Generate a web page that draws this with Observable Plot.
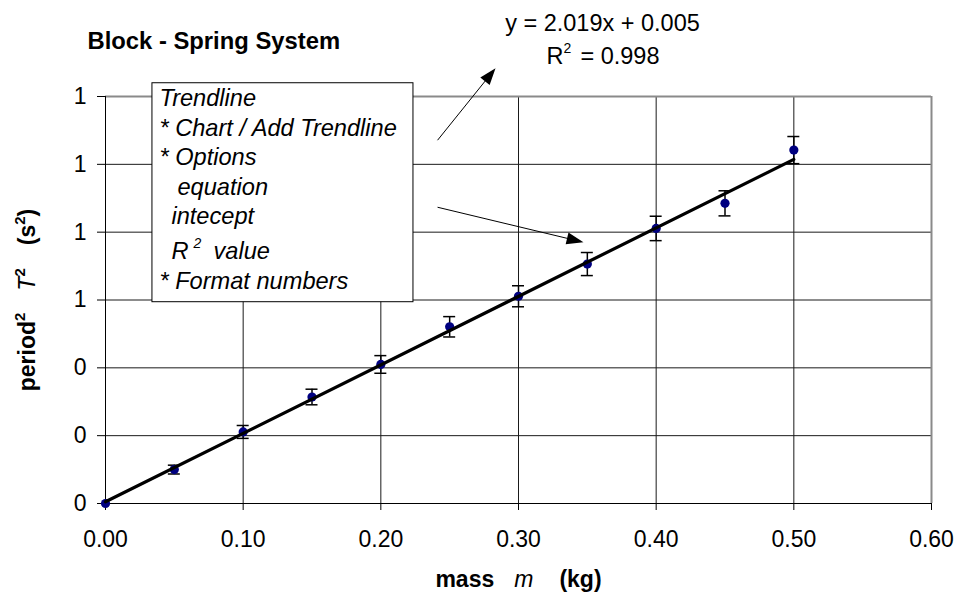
<!DOCTYPE html>
<html>
<head>
<meta charset="utf-8">
<script src="https://cdn.jsdelivr.net/npm/d3@7"></script>
<script src="https://cdn.jsdelivr.net/npm/@observablehq/plot@0.6"></script>
<style>
  html, body { margin: 0; padding: 0; background: #fff; }
  #chart svg { display: block; }
</style>
</head>
<body>
<div id="chart"></div>
<script>
// ---- data ----
const masses = [0, 0.05, 0.10, 0.15, 0.20, 0.25, 0.30, 0.35, 0.40, 0.45, 0.50];
const periodSquared = [0, 0.100, 0.211, 0.314, 0.410, 0.521, 0.611, 0.706, 0.811, 0.885, 1.042];
const errorBars = [0, 0.013, 0.019, 0.023, 0.026, 0.030, 0.031, 0.034, 0.036, 0.037, 0.040];
const xTicks = [0, 0.1, 0.2, 0.3, 0.4, 0.5, 0.6];
const yTicks = [0, 0.2, 0.4, 0.6, 0.8, 1.0, 1.2];
const trendSlope = 2.019;
const trendIntercept = 0.005;
const trendRange = [0, 0.5];
const titleText = "Block - Spring System";
const equationText = "y = 2.019x + 0.005";
const rSquaredText = "= 0.998";
const yTitleText = "period2 T2 (s2)";
const xTitleText = "mass m (kg)";
const noteLines = ["Trendline", "* Chart / Add Trendline", "* Options", "equation", "intecept", "R", "2", "value", "* Format numbers"];

const rows = masses.map((m, i) => ({m, t2: periodSquared[i], err: errorBars[i]}));
const withErr = rows.filter(d => d.err > 0);

const FONT = "'Liberation Sans', Arial, Helvetica, sans-serif";

const arrowHead = {
  draw(ctx, size) {
    const s = Math.sqrt(size / Math.PI);
    ctx.moveTo(0, -1.5 * s);
    ctx.lineTo(s, 1.3 * s);
    ctx.lineTo(-s, 1.3 * s);
    ctx.closePath();
  }
};

const note = (t, x, y, o = {}) => Plot.text([t], {
  x, y, text: d => d, textAnchor: "start", lineAnchor: "bottom",
  fontStyle: "italic", fontSize: 23.6, fontFamily: FONT, fill: "#000", ...o
});

const plot = Plot.plot({
  width: 958,
  height: 596,
  marginLeft: 105,
  marginRight: 27,
  marginTop: 96,
  marginBottom: 93,
  style: {fontFamily: FONT, fontSize: "23px", color: "#000", background: "#fff", overflow: "visible"},
  x: {domain: [0, 0.6], ticks: xTicks, tickFormat: d3.format(".2f"), tickSize: 7, tickPadding: 20, label: null},
  y: {domain: [0, 1.2], ticks: yTicks, tickFormat: d3.format(".0f"), tickSize: 8, tickPadding: 11, label: null},
  marks: [
    // grid
    Plot.ruleY(yTicks.filter(v => v > 0 && v < 1.2), {stroke: "#1a1a1a", strokeWidth: 1}),
    Plot.ruleX(xTicks.filter(v => v > 0 && v < 0.6), {stroke: "#1a1a1a", strokeWidth: 1}),
    Plot.ruleY([1.2], {stroke: "#8a8a8a", strokeWidth: 2}),
    Plot.ruleX([0.6], {stroke: "#8a8a8a", strokeWidth: 2}),
    Plot.ruleX([0], {stroke: "#000", strokeWidth: 1}),
    Plot.ruleY([0], {stroke: "#000", strokeWidth: 1}),

    // error bars
    Plot.ruleX(withErr, {x: "m", y1: d => d.t2 - d.err, y2: d => d.t2 + d.err, stroke: "#000", strokeWidth: 1.5}),
    Plot.ruleY(withErr, {x1: "m", x2: "m", y: d => d.t2 + d.err, insetLeft: -6, insetRight: -6, stroke: "#000", strokeWidth: 1.5}),
    Plot.ruleY(withErr, {x1: "m", x2: "m", y: d => d.t2 - d.err, insetLeft: -6, insetRight: -6, stroke: "#000", strokeWidth: 1.5}),

    // data points
    Plot.dot(rows, {x: "m", y: "t2", r: 4.6, fill: "#000080", stroke: "none"}),

    // trendline
    Plot.line(trendRange, {x: d => d, y: d => trendSlope * d + trendIntercept, stroke: "#000", strokeWidth: 3.2}),

    // annotation box
    Plot.rect([0], {x1: 0.0341, x2: 0.2237, y1: 0.5935, y2: 1.2391, fill: "#fff", stroke: "#000", strokeWidth: 1}),
    note(noteLines[0], 0.0392, 1.1713),
    note(noteLines[1], 0.0392, 1.0843),
    note(noteLines[2], 0.0392, 0.9973),
    note(noteLines[3], 0.0523, 0.9089),
    note(noteLines[4], 0.0479, 0.8234),
    note(noteLines[5], 0.0479, 0.7202),
    note(noteLines[6], 0.0639, 0.7527, {fontSize: 14}),
    note(noteLines[7], 0.0785, 0.7202),
    note(noteLines[8], 0.0392, 0.6318),

    // arrows
    Plot.link([0], {x1: 0.2412, y1: 1.0711, x2: 0.2792, y2: 1.2627, stroke: "#000", strokeWidth: 1}),
    Plot.dot([0], {x: 0.2792, y: 1.2627, r: 6, symbol: arrowHead, fill: "#000", stroke: "none", rotate: 38.9}),
    Plot.link([0], {x1: 0.2412, y1: 0.8735, x2: 0.3408, y2: 0.7765, stroke: "#000", strokeWidth: 1}),
    Plot.dot([0], {x: 0.3408, y: 0.7765, r: 6, symbol: arrowHead, fill: "#000", stroke: "none", rotate: 103.5}),

    // trendline equation
    Plot.text([equationText], {x: 0.3610, y: 1.3933, text: d => d, textAnchor: "middle", lineAnchor: "bottom", fontSize: 23.5, fontFamily: FONT}),
    Plot.text(["R"], {x: 0.3203, y: 1.2951, text: d => d, textAnchor: "start", lineAnchor: "bottom", fontSize: 23.5, fontFamily: FONT}),
    Plot.text(["2"], {x: 0.3327, y: 1.3275, text: d => d, textAnchor: "start", lineAnchor: "bottom", fontSize: 14, fontFamily: FONT}),
    Plot.text([rSquaredText], {x: 0.3450, y: 1.2951, text: d => d, textAnchor: "start", lineAnchor: "bottom", fontSize: 23.5, fontFamily: FONT}),

    // title
    Plot.text([titleText], {frameAnchor: "top-left", dx: -18, dy: -47.7, text: d => d, textAnchor: "start", lineAnchor: "bottom", fontWeight: "bold", fontSize: 23.8, fontFamily: FONT}),

    // axis titles (rich text filled in below)
    Plot.text([yTitleText], {frameAnchor: "left", dx: -71, rotate: -90, text: d => d, textAnchor: "middle", lineAnchor: "bottom", fontSize: 23, fontFamily: FONT}),
    Plot.text([xTitleText], {frameAnchor: "bottom", dy: 83, text: d => d, textAnchor: "middle", lineAnchor: "bottom", fontSize: 23, fontFamily: FONT})
  ]
});

function rich(svg, content, parts) {
  const text = Array.from(svg.querySelectorAll("text")).find(t => t.textContent === content);
  if (!text) return;
  while (text.firstChild) text.removeChild(text.firstChild);
  let shift = 0;
  for (const p of parts) {
    const ts = document.createElementNS("http://www.w3.org/2000/svg", "tspan");
    ts.textContent = p.t;
    const lift = p.sup || 0;
    const dy = shift - lift;
    if (dy) ts.setAttribute("dy", dy);
    shift = lift;
    if (p.gap) ts.setAttribute("dx", p.gap);
    if (p.size) ts.setAttribute("font-size", p.size);
    if (p.w) ts.setAttribute("font-weight", p.w);
    if (p.s) ts.setAttribute("font-style", p.s);
    text.appendChild(ts);
  }
}

rich(plot, yTitleText, [
  {t: "period", w: "bold"},
  {t: "2", w: "bold", size: 15, sup: 10},
  {t: "T", s: "italic", gap: 22},
  {t: "2", w: "bold", size: 15, sup: 10},
  {t: "(s", w: "bold", gap: 23},
  {t: "2", w: "bold", size: 15, sup: 10},
  {t: ")", w: "bold"}
]);
rich(plot, xTitleText, [
  {t: "mass", w: "bold"},
  {t: "m", s: "italic", gap: 20},
  {t: "(kg)", w: "bold", gap: 26}
]);

document.getElementById("chart").appendChild(plot);
</script>
</body>
</html>
